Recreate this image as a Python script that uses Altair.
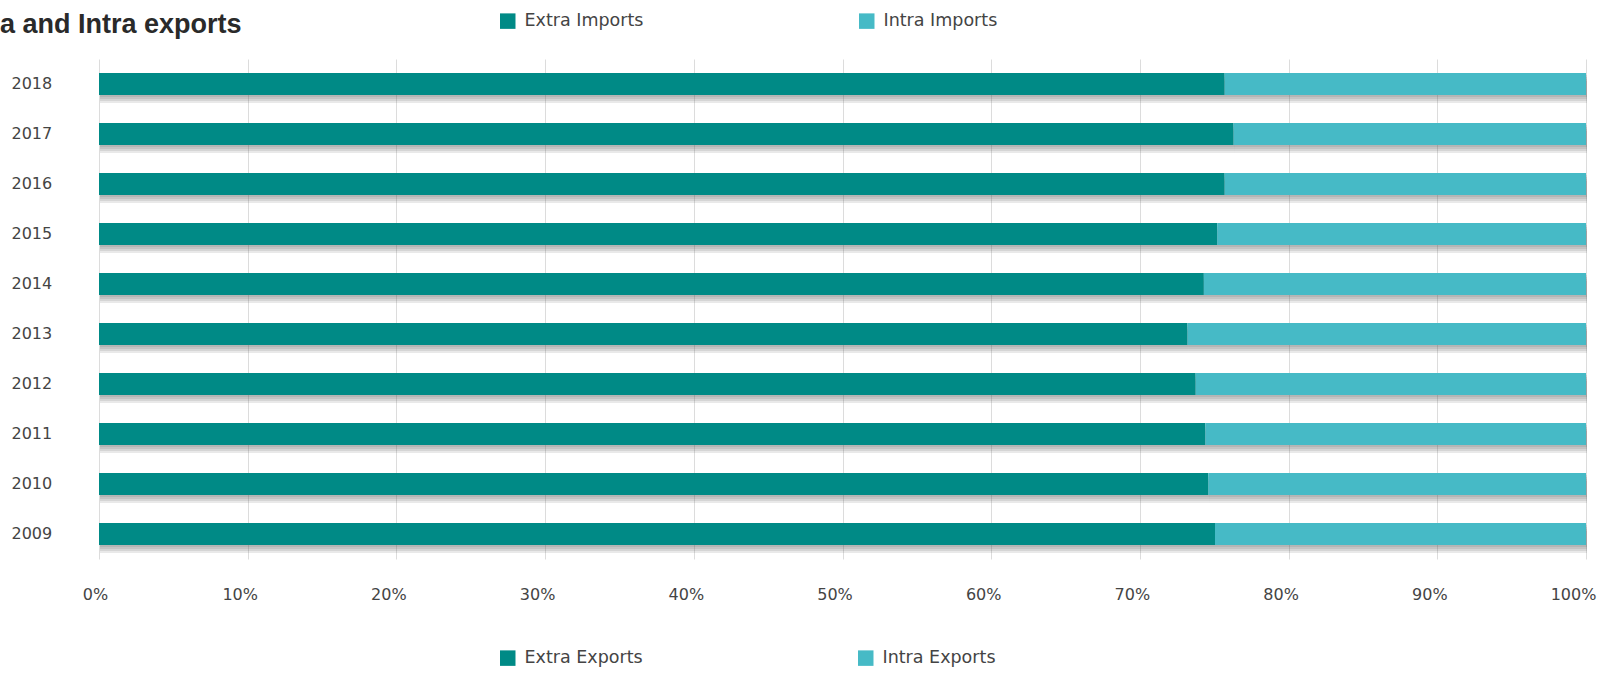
import altair as alt
import pandas as pd

years = ["2018", "2017", "2016", "2015", "2014", "2013", "2012", "2011", "2010", "2009"]
extra_share = [75.7, 76.3, 75.7, 75.2, 74.3, 73.2, 73.75, 74.4, 74.6, 75.05]
intra_share = [round(100 - v, 2) for v in extra_share]
import_labels = ["Extra Imports", "Intra Imports"]
export_labels = ["Extra Exports", "Intra Exports"]
colors = ["#008A86", "#46BAC6"]
x_ticks = [0, 0.1, 0.2, 0.3, 0.4, 0.5, 0.6, 0.7, 0.8, 0.9, 1.0]
title_text = "a and Intra exports"

rows = []
for y, e, i in zip(years, extra_share, intra_share):
    rows.append({"year": y, "share": e, "k": 0, "imp": import_labels[0], "exp": export_labels[0]})
    rows.append({"year": y, "share": i, "k": 1, "imp": import_labels[1], "exp": export_labels[1]})
df = pd.DataFrame(rows)

FONT = "DejaVu Sans"

x_enc = alt.X(
    "share:Q",
    stack="normalize",
    scale=alt.Scale(domain=[0, 1], nice=False),
    axis=alt.Axis(
        values=x_ticks, format=".0%", title=None, grid=True, gridColor="#dcdcdc",
        domain=False, ticks=False, labelPadding=27, labelFlush=False,
        labelOffset={"condition": [{"test": "datum.value == 0", "value": -4},
                                   {"test": "datum.value == 1", "value": -13}],
                     "value": -8},
        labelFont=FONT, labelFontSize=16, labelColor="#444",
    ),
)
y_enc = alt.Y(
    "year:N", sort=years, title=None,
    axis=alt.Axis(domain=False, ticks=False, labelAlign="left", labelPadding=88,
                  labelFont=FONT, labelFontSize=16, labelColor="#444"),
)

base = alt.Chart(df)

shadows = [
    base.mark_bar(size=22, yOffset=off, xOffset=1, color="#555", opacity=0.13).encode(
        x=x_enc, y=y_enc, order=alt.Order("k:Q"))
    for off in (2, 4, 6, 8)
]

bars = base.mark_bar(size=22).encode(
    x=x_enc, y=y_enc, order=alt.Order("k:Q"),
    color=alt.Color(
        "imp:N",
        scale=alt.Scale(domain=import_labels, range=colors),
        legend=alt.Legend(
            title=None, orient="none", legendX=400, legendY=-47, direction="horizontal",
            columns=2, columnPadding=214, symbolType="square", symbolSize=240,
            symbolStrokeWidth=0, labelOffset=8, labelFont=FONT, labelFontSize=17.5,
            labelColor="#444",
        ),
    ),
)

export_layer = base.mark_bar(size=22, opacity=0).encode(
    x=x_enc, y=y_enc, order=alt.Order("k:Q"),
    color=alt.Color(
        "exp:N",
        scale=alt.Scale(domain=export_labels, range=colors),
        legend=alt.Legend(
            title=None, orient="none", legendX=400, legendY=590, direction="horizontal",
            columns=2, columnPadding=214, symbolType="square", symbolSize=240,
            symbolStrokeWidth=0, symbolOpacity=1, labelOffset=8, labelFont=FONT,
            labelFontSize=17.5, labelColor="#444",
        ),
    ),
)

title_layer = alt.Chart(pd.DataFrame({"t": [title_text]})).mark_text(
    align="left", baseline="alphabetic", font="Liberation Sans", fontSize=27,
    fontWeight="bold", color="#2a2a2a",
).encode(x=alt.value(-99), y=alt.value(-26), text="t:N")

chart = (
    alt.layer(*shadows, bars, export_layer, title_layer)
    .resolve_scale(color="independent")
    .properties(
        width=1487, height=500,
        autosize=alt.AutoSizeParams(type="none"),
        padding={"left": 99, "top": 59, "right": 21, "bottom": 114},
    )
    .configure_view(stroke=None)
)

chart.save("out.html", embed_options={"renderer": "svg", "actions": False})
